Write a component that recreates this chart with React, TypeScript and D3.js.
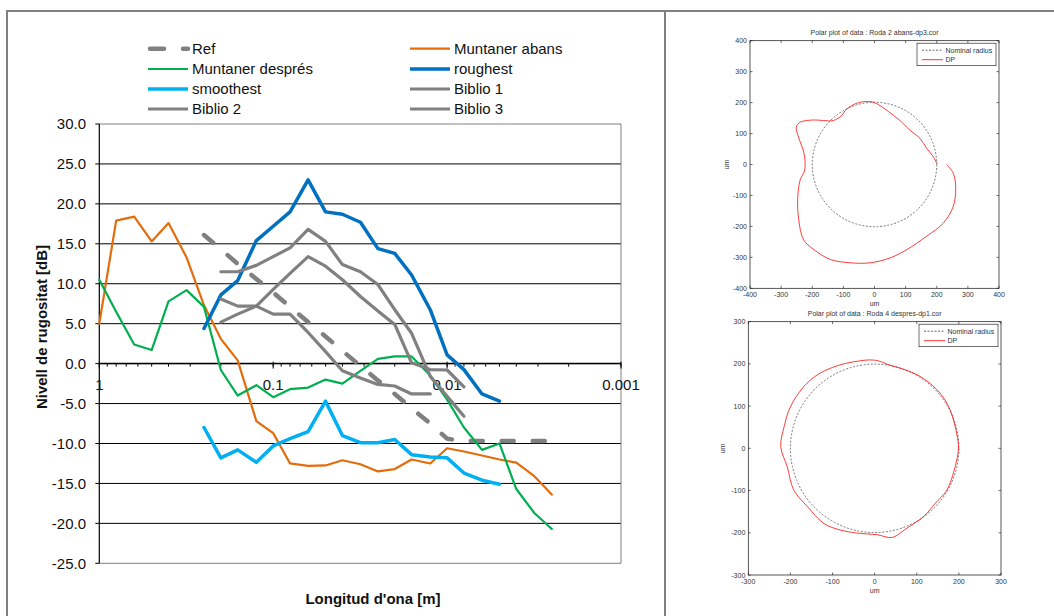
import React from 'react';
import * as d3 from 'd3';

// third-octave wavelength bands [m]
const bands = [1, 0.8, 0.63, 0.5, 0.4, 0.315, 0.25, 0.2, 0.16, 0.125, 0.1, 0.08, 0.063, 0.05, 0.04,
  0.0315, 0.025, 0.02, 0.016, 0.0125, 0.01, 0.008, 0.0063, 0.005, 0.004, 0.00315, 0.0025];

const _ = null;
const refLevel = [_, _, _, _, _, _, 16.1, 14.3, 12.5, 10.6, 8.9, 7.1, 5.2, 3.4, 1.6, -0.3, -2.1, -3.8, -5.6,
  -7.5, -9.4, -9.7, -9.7, -9.7, -9.7, -9.7, -9.7];
const muntanerAbans = [5.0, 17.9, 18.4, 15.3, 17.6, 13.3, 7.3, 3.1, 0.4, -7.2, -8.7, -12.5, -12.8, -12.75,
  -12.1, -12.6, -13.5, -13.2, -12.0, -12.5, -10.6, -11.0, -11.5, -12.0, -12.4, -14.1, -16.4];
const muntanerDespres = [10.5, 6.5, 2.4, 1.7, 7.8, 9.2, 7.1, -0.8, -4.0, -2.7, -4.2, -3.2, -3.0, -2.0, -2.5,
  -0.9, 0.6, 0.9, 0.9, -1.5, -4.5, -8.0, -10.8, -10.0, -15.7, -18.7, -20.7];
const roughest = [_, _, _, _, _, _, 4.4, 8.6, 10.4, 15.4, 17.2, 19.0, 23.0, 19.0, 18.7, 17.7, 14.4, 13.8,
  11.1, 6.75, 1.1, -0.75, -3.8, -4.7, _, _, _];
const smoothest = [_, _, _, _, _, _, -8.0, -11.8, -10.8, -12.35, -10.3, -9.4, -8.5, -4.7, -9.0, -9.9, -9.9,
  -9.5, -11.4, -11.7, -11.8, -13.7, -14.6, -15.1, _, _, _];
const biblio1 = [_, _, _, _, _, _, _, 11.5, 11.5, 12.3, 13.4, 14.5, 16.8, 15.3, 12.4, 11.5, 9.9, 6.75, 3.8,
  -1.6, -4.1, -6.6, _, _, _, _, _];
const biblio2 = [_, _, _, _, _, _, _, 5.2, 6.2, 7.2, 9.3, 11.3, 13.4, 12.2, 10.5, 8.4, 6.6, 4.9, 0.1,
  -0.75, -0.8, -2.9, _, _, _, _, _];
const biblio3 = [_, _, _, _, _, _, _, 8.1, 7.2, 7.2, 6.2, 6.2, 3.9, 1.5, -0.9, -1.8, -2.6, -2.8, -3.8,
  -3.8, _, _, _, _, _, _, _];

const majorWavelengths = [1, 0.1, 0.01, 0.001];

// polar plots: angle [deg], radius [um]
const rodaAbansAngles = [0, -6.5, -16.4, -28.2, -40.5, -54, -69.3, -80.6, -92.5, -103.8, -114.8, -125.5,
  -133.2, -143.7, -155.2, -168.2, -175.4, -188.8, -200, -205.7, -209.8, -216.3, -220.9, -227.1, -236.4,
  -241.6, -251, -260.2, -269.1, -279, -291.1, -300, -316, -330.4, -343, -352.6, -359.1];
const rodaAbansRadii = [232, 255, 272, 287, 291, 286, 294, 306, 318, 327, 338, 337, 333, 302, 272, 244, 225,
  229, 260, 279, 275, 243, 217, 194, 190, 198, 205, 206, 201, 185, 170, 164, 159, 169, 176, 191, 200];
const rodaDespresAngles = [90, 79, 67, 55, 40, 27, 10, 0, -13, -30, -42, -54, -68, -79, -88, -102, -113,
  -124, -139, -153, -168, -181, -194, -206, -221, -232, -243, -256];
const rodaDespresRadii = [209, 200, 200, 202, 203, 201, 198, 199, 196, 198, 194, 199, 204, 215, 205, 205,
  210, 215, 211, 216, 212, 223, 221, 223, 223, 221, 216, 211];
const nominalRadius = 200;

const font = '"Liberation Sans", Arial, sans-serif';

const series = [
  { name: 'Ref', values: refLevel, color: '#808080', width: 4.5, dash: '12 19' },
  { name: 'Muntaner abans', values: muntanerAbans, color: '#E46C0A', width: 2.2 },
  { name: 'Muntaner després', values: muntanerDespres, color: '#00B050', width: 2.2 },
  { name: 'roughest', values: roughest, color: '#0070C0', width: 3.5 },
  { name: 'smoothest', values: smoothest, color: '#00B0F0', width: 3.5 },
  { name: 'Biblio 1', values: biblio1, color: '#808080', width: 3.2 },
  { name: 'Biblio 2', values: biblio2, color: '#808080', width: 3.2 },
  { name: 'Biblio 3', values: biblio3, color: '#808080', width: 3.2 },
];

function PolarPlot({ box, lim, title, angles, radii, closed, ylabelX, xlabelY }) {
  const sx = d3.scaleLinear().domain([-lim, lim]).range([box.left, box.right]);
  const sy = d3.scaleLinear().domain([-lim, lim]).range([box.bottom, box.top]);
  const ticks = sx.ticks(2 * lim / 100);
  const pts = angles.map((a, i) => {
    const t = (a * Math.PI) / 180;
    return [radii[i] * Math.cos(t), radii[i] * Math.sin(t)];
  });
  const line = d3.line().x(d => sx(d[0])).y(d => sy(d[1]))
    .curve(closed ? d3.curveCatmullRomClosed : d3.curveCatmullRom);
  const tl = 2.5;
  const lx = box.right - 82;
  const ly = box.top + 2.5;
  return (
    <g fontFamily={font} fill="#333">
      <text x={(box.left + box.right) / 2} y={box.top - 6} fontSize={7} textAnchor="middle">{title}</text>
      <circle cx={sx(0)} cy={sy(0)} r={sx(nominalRadius) - sx(0)} fill="none" stroke="#222"
        strokeWidth={0.6} strokeDasharray="2 1.6" />
      <path d={line(pts)} fill="none" stroke="#f00" strokeWidth={0.9} strokeOpacity={0.85} />
      <rect x={box.left} y={box.top} width={box.right - box.left} height={box.bottom - box.top}
        fill="none" stroke="#111" strokeWidth={0.7} />
      {ticks.map(t => (
        <g key={'t' + t}>
          <line x1={sx(t)} x2={sx(t)} y1={box.bottom} y2={box.bottom - tl} stroke="#111" strokeWidth={0.6} />
          <line x1={sx(t)} x2={sx(t)} y1={box.top} y2={box.top + tl} stroke="#111" strokeWidth={0.6} />
          <line y1={sy(t)} y2={sy(t)} x1={box.left} x2={box.left + tl} stroke="#111" strokeWidth={0.6} />
          <line y1={sy(t)} y2={sy(t)} x1={box.right} x2={box.right - tl} stroke="#111" strokeWidth={0.6} />
          <text x={sx(t)} y={box.bottom + 9} fontSize={7} textAnchor="middle">{t}</text>
          <text x={box.left - 3} y={sy(t) + 2.5} fontSize={7} textAnchor="end">{t}</text>
        </g>
      ))}
      <text x={sx(0)} y={xlabelY} fontSize={7} textAnchor="middle">um</text>
      <text transform={`translate(${ylabelX},${sy(0)}) rotate(-90)`} fontSize={7} textAnchor="middle">um</text>
      <rect x={lx} y={ly} width={79} height={22.5} fill="#fff" stroke="#111" strokeWidth={0.6} />
      <line x1={lx + 5} x2={lx + 26} y1={ly + 7} y2={ly + 7} stroke="#222" strokeWidth={0.7} strokeDasharray="2 1.5" />
      <text x={lx + 28.5} y={ly + 9.5} fontSize={7}>Nominal radius</text>
      <line x1={lx + 5} x2={lx + 26} y1={ly + 16.5} y2={ly + 16.5} stroke="#f00" strokeWidth={0.8} />
      <text x={lx + 28.5} y={ly + 19} fontSize={7}>DP</text>
    </g>
  );
}

export default function App() {
  const W = 1054, H = 616;
  const x = d3.scaleLog().domain([1, 0.001]).range([99.3, 621]);
  const y = d3.scaleLinear().domain([-25, 30]).range([563.3, 124]);
  const line = d3.line<number | null>()
    .defined(d => d != null)
    .x((d, i) => x(bands[i]))
    .y(d => y(d as number));
  const yTicks = y.ticks(11);
  const minor = x.ticks();
  const legendCols = [148, 410];
  const legendRows = [48.7, 69, 89, 109];

  return (
    <div style={{ position: 'absolute', left: 0, top: 0 }}>
      <svg width={W} height={H} style={{ display: 'block', background: '#fff' }}>
        {/* frame */}
        <line x1={6} x2={W} y1={11} y2={11} stroke="#808080" strokeWidth={2} />
        <line x1={7} x2={7} y1={10} y2={H} stroke="#808080" strokeWidth={2} />
        <line x1={665} x2={665} y1={10} y2={H} stroke="#808080" strokeWidth={2} />

        {/* plot area */}
        {yTicks.map(t => (
          <line key={'g' + t} x1={x(1)} x2={x(0.001)} y1={y(t)} y2={y(t)}
            stroke={t === 30 || t === -25 ? '#808080' : '#000'} strokeWidth={1} />
        ))}
        <line x1={x(0.001)} x2={x(0.001)} y1={y(30)} y2={y(-25)} stroke="#808080" strokeWidth={1} />
        <line x1={x(1)} x2={x(1)} y1={y(30)} y2={y(-25)} stroke="#000" strokeWidth={1.2} />
        {yTicks.map(t => (
          <g key={'yt' + t}>
            <line x1={x(1) - 4} x2={x(1)} y1={y(t)} y2={y(t)} stroke="#000" />
            <text x={86} y={y(t)} dy="0.35em" fontSize={15} fontFamily={font} textAnchor="end" fill="#111">
              {t.toFixed(1)}
            </text>
          </g>
        ))}
        <line x1={x(1)} x2={x(0.001)} y1={y(0)} y2={y(0)} stroke="#000" strokeWidth={1.5} />
        {minor.map((t, i) => (
          <line key={'mt' + i} x1={x(t)} x2={x(t)} y1={y(0)} y2={y(0) + 3} stroke="#000" />
        ))}
        {majorWavelengths.map(t => (
          <g key={'xt' + t}>
            <line x1={x(t)} x2={x(t)} y1={y(0) - 2} y2={y(0) + 5} stroke="#000" />
            <text x={x(t)} y={390} fontSize={15} fontFamily={font} textAnchor="middle" fill="#111">{String(t)}</text>
          </g>
        ))}

        {/* series */}
        {series.map(s => (
          <path key={s.name} d={line(s.values) as string} fill="none" stroke={s.color}
            strokeWidth={s.width} strokeDasharray={s.dash} strokeLinejoin="round"
            strokeLinecap={s.dash ? 'round' : 'round'} />
        ))}

        {/* axis titles */}
        <text x={373} y={604} fontSize={15} fontWeight="bold" fontFamily={font} textAnchor="middle" fill="#111">
          Longitud d'ona [m]
        </text>
        <text transform="translate(47,327) rotate(-90)" fontSize={15} fontWeight="bold" fontFamily={font}
          textAnchor="middle" fill="#111">Nivell de rugositat [dB]</text>

        {/* legend */}
        {series.map((s, i) => {
          const lx = legendCols[i % 2];
          const ly = legendRows[Math.floor(i / 2)];
          return (
            <g key={'lg' + s.name}>
              <line x1={lx + (s.dash ? 2 : 0)} x2={lx + 40} y1={ly} y2={ly} stroke={s.color}
                strokeWidth={s.width} strokeDasharray={s.dash ? '14 19' : undefined}
                strokeLinecap={s.dash ? 'round' : 'butt'} />
              <text x={lx + 44} y={ly} dy="0.35em" fontSize={15} fontFamily={font} fill="#111">{s.name}</text>
            </g>
          );
        })}

        {/* polar plots */}
        <PolarPlot box={{ left: 750, right: 999, top: 40.7, bottom: 288.3 }} lim={400}
          title="Polar plot of data : Roda 2 abans-dp3.cor" angles={rodaAbansAngles} radii={rodaAbansRadii}
          closed={false} ylabelX={729} xlabelY={306} />
        <PolarPlot box={{ left: 748.3, right: 1001, top: 321.7, bottom: 575 }} lim={300}
          title="Polar plot of data : Roda 4 despres-dp1.cor" angles={rodaDespresAngles} radii={rodaDespresRadii}
          closed={true} ylabelX={725} xlabelY={593} />
      </svg>
    </div>
  );
}
